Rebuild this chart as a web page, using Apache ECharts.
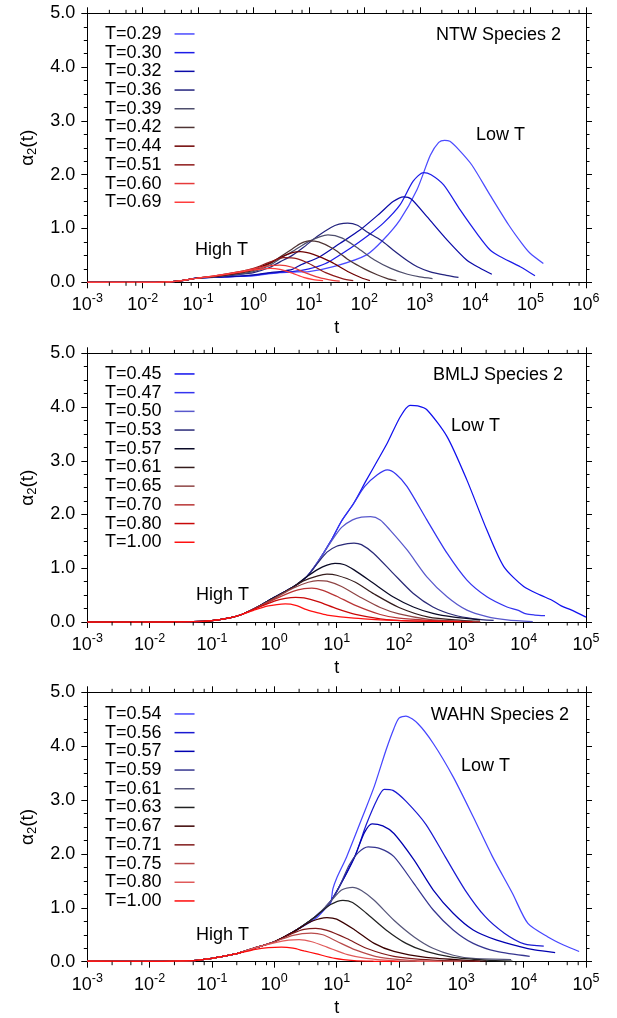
<!DOCTYPE html>
<html><head><meta charset="utf-8">
<script src="https://cdn.jsdelivr.net/npm/echarts@6/dist/echarts.min.js"></script>
<style>html,body{margin:0;padding:0;background:#fff}#c{width:617px;height:1018px}</style>
</head><body><div id="c"></div>
<script>
// ---------- DATA ----------
// NTW Species 2
const ntwTemps = ['T=0.29','T=0.30','T=0.32','T=0.36','T=0.39','T=0.42','T=0.44','T=0.51','T=0.60','T=0.69'];
const ntwColors = ['#4b4bff','#1c1ce8','#0a0aa8','#23237e','#4e4e6c','#4e3434','#6e0000','#8e1a1a','#e63a3a','#ff3c3c'];
const ntw029 = [[0.001,0],[0.01,0],[0.03,0.01],[0.05,0.03],[0.1,0.08],[0.3,0.1],[1,0.12],[2,0.16],[3,0.18],[5,0.19],[10,0.2],[30,0.3],[110,0.51],[220,0.79],[440,1.16],[890,1.72],[1550,2.36],[2200,2.6],[2800,2.64],[3500,2.62],[5000,2.47],[8700,2.18],[18600,1.62],[40000,1.07],[70000,0.72],[98000,0.54],[170000,0.35]];
const ntw030 = [[0.001,0],[0.01,0],[0.03,0.01],[0.05,0.03],[0.1,0.08],[0.3,0.1],[1,0.13],[2,0.17],[3,0.19],[5,0.2],[10,0.25],[20,0.35],[55,0.63],[120,0.88],[220,1.1],[440,1.44],[760,1.88],[1170,2.04],[1600,2.0],[2700,1.81],[5400,1.34],[10700,0.91],[18600,0.6],[28000,0.48],[65000,0.29],[120000,0.12]];
const ntw032 = [[0.001,0],[0.01,0],[0.03,0.01],[0.05,0.03],[0.1,0.08],[0.3,0.1],[1,0.14],[2,0.18],[3,0.2],[5,0.24],[7,0.32],[16,0.48],[36,0.72],[83,0.97],[190,1.28],[330,1.5],[510,1.59],[700,1.55],[1350,1.22],[3100,0.79],[7100,0.41],[12300,0.26],[20000,0.15]];
const ntw036 = [[0.001,0],[0.01,0],[0.03,0.01],[0.05,0.03],[0.1,0.08],[0.2,0.1],[0.5,0.14],[1,0.18],[2,0.28],[3,0.38],[5,0.5],[8,0.65],[14,0.85],[25,1.02],[35,1.08],[50,1.1],[75,1.06],[110,0.94],[200,0.78],[330,0.6],[600,0.4],[900,0.29],[1500,0.2],[3000,0.13],[5000,0.09]];
const ntw039 = [[0.001,0],[0.01,0],[0.03,0.01],[0.05,0.03],[0.1,0.08],[0.2,0.1],[0.5,0.15],[1,0.2],[2,0.32],[3,0.44],[5,0.57],[10,0.76],[16,0.85],[22,0.88],[40,0.82],[80,0.62],[150,0.42],[300,0.26],[600,0.15],[1000,0.1],[1700,0.07]];
const ntw042 = [[0.001,0],[0.01,0],[0.03,0.01],[0.05,0.03],[0.1,0.08],[0.2,0.11],[0.5,0.16],[1,0.22],[2,0.35],[3,0.47],[5,0.62],[7,0.72],[10,0.77],[15,0.75],[28,0.62],[55,0.4],[100,0.25],[170,0.14],[260,0.07],[380,0.03]];
const ntw044 = [[0.001,0],[0.01,0],[0.03,0.01],[0.05,0.03],[0.1,0.08],[0.2,0.11],[0.5,0.17],[1,0.24],[2,0.36],[3,0.46],[5,0.55],[7,0.57],[12,0.52],[25,0.38],[50,0.2],[90,0.08],[126,0.03]];
const ntw051 = [[0.001,0],[0.01,0],[0.03,0.01],[0.05,0.03],[0.1,0.08],[0.2,0.12],[0.5,0.19],[1,0.26],[2,0.38],[3.5,0.46],[6,0.44],[10,0.35],[20,0.18],[40,0.07],[63,0.03]];
const ntw060 = [[0.001,0],[0.01,0],[0.03,0.01],[0.05,0.03],[0.1,0.08],[0.2,0.12],[0.5,0.19],[1,0.25],[2,0.31],[3,0.32],[5,0.28],[8,0.19],[15,0.09],[25,0.04],[36,0.02]];
const ntw069 = [[0.001,0],[0.01,0],[0.03,0.01],[0.05,0.03],[0.1,0.08],[0.2,0.12],[0.5,0.18],[1,0.23],[2,0.26],[3,0.24],[5,0.17],[8,0.09],[12,0.05],[18,0.03]];
const ntwCurves = [ntw029,ntw030,ntw032,ntw036,ntw039,ntw042,ntw044,ntw051,ntw060,ntw069];

// BMLJ Species 2
const bmlTemps = ['T=0.45','T=0.47','T=0.50','T=0.53','T=0.57','T=0.61','T=0.65','T=0.70','T=0.80','T=1.00'];
const bmlColors = ['#1010ee','#3434f0','#5858cc','#2a2a78','#0a0a26','#341c1c','#8e4444','#b83434','#c80808','#ff1010'];
const bml045 = [[0.001,0],[0.01,0],[0.05,0.005],[0.1,0.025],[0.2,0.08],[0.3,0.14],[0.5,0.26],[1,0.46],[2,0.65],[3.3,0.84],[5,1.12],[8,1.5],[12,1.88],[18.6,2.2],[30,2.64],[45,3.0],[65,3.33],[105,3.82],[150,4.03],[200,4.02],[280,3.95],[590,3.45],[1230,2.64],[2570,1.71],[4800,1.03],[10000,0.66],[18600,0.5],[28000,0.41],[40000,0.3],[59000,0.22],[100000,0.09]];
const bml047 = [[0.001,0],[0.01,0],[0.05,0.005],[0.1,0.025],[0.2,0.08],[0.3,0.14],[0.5,0.26],[1,0.46],[2,0.65],[3.3,0.84],[5,1.12],[8,1.5],[12,1.88],[18.6,2.2],[28,2.52],[45,2.74],[65,2.83],[90,2.75],[135,2.52],[280,1.9],[590,1.28],[1230,0.78],[2570,0.47],[5400,0.28],[8000,0.22],[11000,0.15],[15000,0.13],[22000,0.12]];
const bml050 = [[0.001,0],[0.01,0],[0.05,0.005],[0.1,0.025],[0.2,0.08],[0.3,0.14],[0.5,0.26],[1,0.46],[2,0.65],[3.3,0.84],[5,1.12],[8,1.48],[12,1.76],[18,1.9],[25,1.95],[35,1.96],[50,1.9],[72,1.71],[135,1.34],[280,0.84],[590,0.47],[1230,0.22],[2570,0.1],[5400,0.04],[14000,0.005]];
const bml053 = [[0.001,0],[0.01,0],[0.05,0.005],[0.1,0.025],[0.2,0.08],[0.3,0.14],[0.5,0.26],[1,0.46],[2,0.65],[3.3,0.84],[5,1.1],[7,1.3],[10,1.41],[15,1.46],[19,1.47],[25,1.44],[39,1.28],[80,0.91],[170,0.53],[350,0.28],[760,0.13],[1600,0.06],[3300,0.03]];
const bml057 = [[0.001,0],[0.01,0],[0.05,0.005],[0.1,0.025],[0.2,0.08],[0.3,0.14],[0.5,0.26],[1,0.46],[2,0.65],[3.3,0.84],[5,0.98],[7,1.06],[9.4,1.09],[13,1.07],[19,0.97],[39,0.72],[80,0.47],[170,0.28],[350,0.16],[760,0.09],[2000,0.04]];
const bml061 = [[0.001,0],[0.01,0],[0.05,0.005],[0.1,0.025],[0.2,0.08],[0.3,0.14],[0.5,0.26],[1,0.45],[2,0.65],[3,0.77],[5,0.86],[7,0.89],[10,0.87],[20,0.74],[40,0.52],[100,0.27],[300,0.09],[1000,0.03],[2000,0.01]];
const bml065 = [[0.001,0],[0.01,0],[0.05,0.005],[0.1,0.025],[0.2,0.08],[0.3,0.14],[0.5,0.26],[1,0.44],[2,0.63],[3.5,0.74],[5,0.77],[7,0.76],[12,0.66],[25,0.45],[50,0.27],[100,0.15],[300,0.05],[1000,0.015],[2000,0.005]];
const bml070 = [[0.001,0],[0.01,0],[0.05,0.005],[0.1,0.025],[0.2,0.08],[0.3,0.14],[0.5,0.25],[1,0.42],[2,0.57],[3,0.62],[4,0.63],[6,0.59],[10,0.48],[20,0.31],[50,0.14],[100,0.07],[300,0.03],[1000,0.01],[2000,0.003]];
const bml080 = [[0.001,0],[0.01,0],[0.05,0.005],[0.1,0.025],[0.2,0.08],[0.3,0.14],[0.5,0.25],[1,0.39],[1.5,0.44],[2.2,0.46],[3,0.45],[5,0.38],[10,0.25],[20,0.14],[50,0.06],[150,0.02],[500,0.01],[1500,0.003]];
const bml100 = [[0.001,0],[0.01,0],[0.05,0.005],[0.1,0.025],[0.2,0.08],[0.3,0.14],[0.5,0.23],[0.8,0.3],[1.1,0.325],[1.5,0.335],[2.2,0.31],[3.3,0.23],[5,0.17],[7,0.13],[19,0.07],[50,0.04],[135,0.02],[400,0.01],[1000,0.003]];
const bmlCurves = [bml045,bml047,bml050,bml053,bml057,bml061,bml065,bml070,bml080,bml100];

// WAHN Species 2
const wahnTemps = ['T=0.54','T=0.56','T=0.57','T=0.59','T=0.61','T=0.63','T=0.67','T=0.71','T=0.75','T=0.80','T=1.00'];
const wahnColors = ['#4646ff','#1a1ad2','#0000b0','#363690','#56567a','#222222','#3a0000','#801a1a','#b84a4a','#e05a5a','#ff0a0a'];
const wahn054 = [[0.001,0.01],[0.01,0.005],[0.05,0.02],[0.1,0.06],[0.15,0.1],[0.25,0.15],[0.5,0.26],[1,0.37],[2,0.55],[4.6,0.8],[7,1.02],[8,1.08],[8.7,1.35],[10,1.55],[14.5,1.95],[26,2.69],[40,3.25],[62,3.93],[83,4.33],[100,4.52],[129,4.56],[200,4.42],[355,4.05],[740,3.43],[1550,2.69],[3160,1.95],[6600,1.27],[11700,0.71],[24500,0.46],[43600,0.31],[77600,0.19]];
const wahn056 = [[0.001,0.01],[0.01,0.005],[0.05,0.02],[0.1,0.06],[0.15,0.1],[0.25,0.15],[0.5,0.26],[1,0.37],[2,0.55],[4.6,0.84],[8,1.12],[11,1.39],[19.5,1.95],[30,2.55],[45,3.02],[58,3.2],[80,3.18],[129,2.98],[270,2.55],[550,1.95],[1150,1.33],[2400,0.84],[4900,0.53],[10200,0.33],[21000,0.29]];
const wahn057 = [[0.001,0.01],[0.01,0.005],[0.05,0.02],[0.1,0.06],[0.15,0.1],[0.25,0.15],[0.5,0.26],[1,0.37],[2,0.55],[4.6,0.84],[8,1.12],[11,1.39],[19.5,1.95],[28,2.4],[37,2.56],[55,2.52],[83,2.38],[174,1.89],[355,1.33],[740,0.9],[1550,0.59],[3700,0.4],[8700,0.28],[15000,0.22],[32000,0.17]];
const wahn059 = [[0.001,0.01],[0.01,0.005],[0.05,0.02],[0.1,0.06],[0.15,0.1],[0.25,0.15],[0.5,0.26],[1,0.37],[2,0.55],[4.6,0.84],[8,1.12],[11,1.39],[16,1.8],[22,2.02],[32,2.13],[50,2.1],[83,1.95],[174,1.45],[355,0.96],[740,0.59],[1550,0.34],[3700,0.19],[12500,0.1]];
const wahn061 = [[0.001,0.01],[0.01,0.005],[0.05,0.02],[0.1,0.06],[0.15,0.1],[0.25,0.15],[0.5,0.26],[1,0.37],[2,0.55],[4.6,0.84],[8,1.12],[12,1.33],[18,1.38],[25,1.32],[40,1.14],[83,0.77],[175,0.46],[350,0.25],[740,0.12],[1550,0.06],[6300,0.04]];
const wahn063 = [[0.001,0.01],[0.01,0.005],[0.05,0.02],[0.1,0.06],[0.15,0.1],[0.25,0.15],[0.5,0.26],[1,0.37],[2,0.55],[4.6,0.84],[8,1.06],[12.6,1.14],[18,1.1],[30,0.9],[62,0.59],[130,0.34],[270,0.19],[740,0.08],[2400,0.03],[6600,0.01]];
const wahn067 = [[0.001,0.01],[0.01,0.005],[0.05,0.02],[0.1,0.06],[0.15,0.1],[0.25,0.15],[0.5,0.26],[1,0.37],[2,0.55],[4,0.75],[7,0.82],[10,0.79],[19.5,0.59],[40,0.34],[83,0.19],[270,0.08],[1550,0.02],[2500,0.01]];
const wahn071 = [[0.001,0.01],[0.01,0.005],[0.05,0.02],[0.1,0.06],[0.15,0.1],[0.25,0.15],[0.5,0.26],[1,0.37],[2,0.53],[3,0.6],[4.6,0.62],[7,0.58],[14.5,0.43],[30,0.25],[83,0.1],[350,0.03],[1500,0.01],[2000,0.005]];
const wahn075 = [[0.001,0.01],[0.01,0.005],[0.05,0.02],[0.1,0.06],[0.15,0.1],[0.25,0.15],[0.5,0.26],[1,0.37],[2,0.49],[3.9,0.53],[6,0.5],[10,0.38],[20,0.22],[50,0.08],[150,0.025],[500,0.008],[1000,0.003]];
const wahn080 = [[0.001,0.01],[0.01,0.005],[0.05,0.02],[0.1,0.06],[0.15,0.1],[0.25,0.15],[0.5,0.26],[1,0.35],[1.7,0.4],[2.5,0.41],[4,0.37],[7,0.27],[15,0.13],[30,0.06],[80,0.02],[200,0.008],[500,0.002]];
const wahn100 = [[0.001,0.01],[0.01,0.005],[0.05,0.02],[0.1,0.06],[0.15,0.1],[0.25,0.15],[0.5,0.23],[0.8,0.26],[1.3,0.27],[2,0.25],[3,0.2],[4.6,0.15],[9.4,0.06],[19,0.02],[40,0.008],[100,0.002]];
const wahnCurves = [wahn054,wahn056,wahn057,wahn059,wahn061,wahn063,wahn067,wahn071,wahn075,wahn080,wahn100];

// Axis ticks
const yTickValues = [0,1,2,3,4,5];
const xMinorMantissas = [2.5, 5, 7.5];
const xMinExp = -3;
const xMaxExps = [6, 5, 5];

// ---------- CHART ----------
const FONT = 'Liberation Sans, Arial, Helvetica, sans-serif';
const FS = 18;
const panels = [
  {key:'NTW', title:'NTW Species 2', temps:ntwTemps, colors:ntwColors, curves:ntwCurves, top:13.3, height:269, legendTop:24.6,
   titlePos:[561,35], lowT:[476,135], highT:[195,250.5]},
  {key:'BMLJ', title:'BMLJ Species 2', temps:bmlTemps, colors:bmlColors, curves:bmlCurves, top:353.3, height:268.7, legendTop:364.6,
   titlePos:[563,375], lowT:[451,426.5], highT:[196,595]},
  {key:'WAHN', title:'WAHN Species 2', temps:wahnTemps, colors:wahnColors, curves:wahnCurves, top:692.3, height:269.4, legendTop:704.6,
   titlePos:[569,715], lowT:[461,766], highT:[196,935]}
];

const grid = [], xAxis = [], yAxis = [], series = [], legend = [], graphic = [];
const axisLineStyle = {color:'#000', width:1};

panels.forEach((p, i) => {
  grid.push({left:87.3, top:p.top, width:498.7, height:p.height, containLabel:false});
  const xmax = Math.pow(10, xMaxExps[i]);
  const xCommon = {gridIndex:i, type:'log', logBase:10, min:Math.pow(10,xMinExp), max:xmax, interval:1,
    axisLine:{show:true, onZero:false, lineStyle:axisLineStyle},
    axisTick:{show:true, inside:false, length:6, lineStyle:{color:'#000', width:1}},
    minorTick:{show:false}, splitLine:{show:false}, minorSplitLine:{show:false}};
  xAxis.push(Object.assign({}, xCommon, {position:'bottom',
    axisLabel:{show:true, margin:10, color:'#000',
      formatter: v => '{b|10}{s|' + Math.round(Math.log10(v)) + '}',
      rich:{b:{fontSize:FS, fontFamily:FONT, color:'#000', lineHeight:22, verticalAlign:'bottom'},
            s:{fontSize:12.5, fontFamily:FONT, color:'#000', lineHeight:8, verticalAlign:'top'}}},
    name:'t', nameLocation:'middle', nameGap:37,
    nameTextStyle:{fontSize:FS, fontFamily:FONT, color:'#000'}}));
  xAxis.push(Object.assign({}, xCommon, {position:'top', axisLabel:{show:false}}));

  const yCommon = {gridIndex:i, type:'value', min:yTickValues[0], max:yTickValues[yTickValues.length-1], interval:1,
    axisLine:{show:true, onZero:false, lineStyle:axisLineStyle},
    axisTick:{show:true, inside:false, length:6, lineStyle:{color:'#000', width:1}},
    minorTick:{show:true, splitNumber:4, length:3.5, lineStyle:{color:'#000', width:1}},
    splitLine:{show:false}, minorSplitLine:{show:false}};
  yAxis.push(Object.assign({}, yCommon, {position:'left',
    axisLabel:{show:true, margin:12, fontSize:FS, fontFamily:FONT, color:'#000', formatter: v => v.toFixed(1)},
    name:'{a|α}{s|2}{a|(t)}', nameLocation:'middle', nameGap:48, nameRotate:90,
    nameTextStyle:{color:'#000', fontFamily:FONT,
      rich:{a:{fontSize:19, fontFamily:FONT, color:'#000', lineHeight:24, verticalAlign:'middle'},
            s:{fontSize:13, fontFamily:FONT, color:'#000', lineHeight:13, verticalAlign:'bottom'}}}}));
  yAxis.push(Object.assign({}, yCommon, {position:'right', axisLabel:{show:false}}));

  const names = [];
  p.curves.forEach((c, k) => {
    const nm = p.key + ' ' + p.temps[k];
    names.push(nm);
    series.push({name:nm, type:'line', xAxisIndex:2*i, yAxisIndex:2*i, data:c,
      showSymbol:false, symbol:'none', smooth:0.25, animation:false,
      lineStyle:{color:p.colors[k], width:1.25}, itemStyle:{color:p.colors[k]}, z:2});
  });

  // log minor ticks on bottom and top x axes
  const minorData = [];
  for (let e = xMinExp; e < xMaxExps[i]; e++) {
    xMinorMantissas.forEach(m => minorData.push([m * Math.pow(10, e), 0]));
  }
  series.push({type:'custom', xAxisIndex:2*i, yAxisIndex:2*i, silent:true, clip:false, animation:false, z:5,
    data:minorData, encode:{x:0, y:1},
    renderItem:(params, api) => {
      const v = api.value(0);
      const b = api.coord([v, yTickValues[0]]);
      const t = api.coord([v, yTickValues[yTickValues.length-1]]);
      return {type:'group', children:[
        {type:'line', shape:{x1:b[0], y1:b[1], x2:b[0], y2:b[1]+3.5}, style:{stroke:'#000', lineWidth:1}},
        {type:'line', shape:{x1:t[0], y1:t[1], x2:t[0], y2:t[1]-3.5}, style:{stroke:'#000', lineWidth:1}}
      ]};
    }});

  legend.push({orient:'vertical', left:105, top:p.legendTop, align:'right', padding:0, itemGap:0,
    itemWidth:20, itemHeight:1.5, icon:'rect', selectedMode:false, data:names,
    formatter: n => n.split(' ')[1],
    itemStyle:{borderWidth:0},
    textStyle:{fontSize:FS, fontFamily:FONT, color:'#000', lineHeight:18.7, padding:[0,8,0,0]}});

  graphic.push({type:'text', x:p.titlePos[0], y:p.titlePos[1], silent:true,
    style:{text:p.title, fontSize:FS, fontFamily:FONT, fill:'#000', align:'right', verticalAlign:'middle', textAlign:'right', textVerticalAlign:'middle'}});
  graphic.push({type:'text', x:p.lowT[0], y:p.lowT[1], silent:true,
    style:{text:'Low T', fontSize:FS, fontFamily:FONT, fill:'#000', align:'left', verticalAlign:'middle', textAlign:'left', textVerticalAlign:'middle'}});
  graphic.push({type:'text', x:p.highT[0], y:p.highT[1], silent:true,
    style:{text:'High T', fontSize:FS, fontFamily:FONT, fill:'#000', align:'left', verticalAlign:'middle', textAlign:'left', textVerticalAlign:'middle'}});
});

const chart = echarts.init(document.getElementById('c'), null, {renderer:'canvas'});
chart.setOption({animation:false, backgroundColor:'#fff', textStyle:{fontFamily:FONT},
  grid, xAxis, yAxis, series, legend, graphic});
</script>
</body></html>
